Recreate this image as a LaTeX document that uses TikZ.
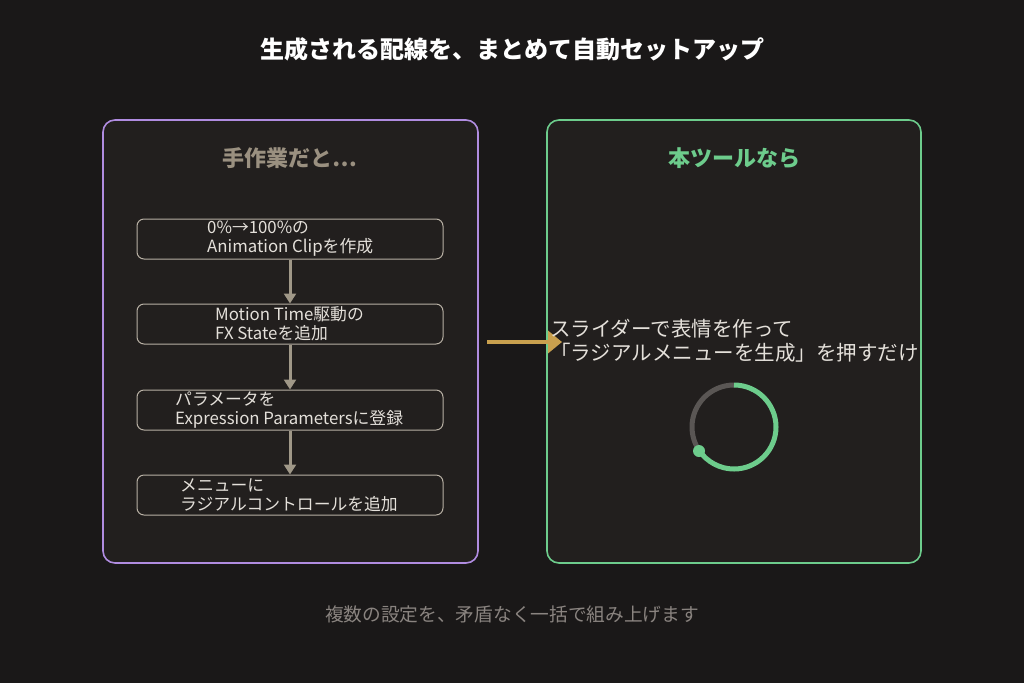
\documentclass[tikz,border=0pt]{standalone}
\usepackage{fontspec}
\setmainfont{Noto Sans CJK JP}
\usetikzlibrary{arrows.meta,calc}
\begin{document}
\begin{tikzpicture}[x=1pt,y=-1pt,
  panel/.style={draw, line width=1.6pt, rounded corners=12pt, fill=panelbg},
  flowbox/.style={draw=boxline, line width=1pt, rounded corners=7pt},
  txt/.style={text=boxtext, font=\fontsize{16.8}{19}\selectfont, align=left, anchor=west, inner sep=0pt},
  flow/.style={draw=arrowc, line width=3pt, -{Triangle[length=10pt,width=12pt]}}]
\definecolor{bg}{HTML}{1A1818}
\definecolor{panelbg}{HTML}{221F1E}
\definecolor{purp}{HTML}{B08CE0}
\definecolor{grn}{HTML}{6DCC8C}
\definecolor{boxline}{HTML}{B8B0A4}
\definecolor{boxtext}{HTML}{E4E0DA}
\definecolor{arrowc}{HTML}{A09888}
\definecolor{gold}{HTML}{C9A04E}
\definecolor{heading}{HTML}{9A9080}
\definecolor{foot}{HTML}{8A8480}
\definecolor{ring}{HTML}{5A5654}
\fill[bg] (0,0) rectangle (1024,683);
\useasboundingbox (0,0) rectangle (1024,683);
\node[text=white, font=\fontsize{24}{28}\selectfont\bfseries] (title) at (512,49) {生成される配線を、まとめて自動セットアップ};
\draw[panel, draw=purp] (103,120) rectangle (478,563);
\draw[panel, draw=grn] (547,120) rectangle (921,563);
\node[text=heading, font=\fontsize{22}{26}\selectfont\bfseries] (lh) at (290,158) {手作業だと…};
\node[text=grn, font=\fontsize{22}{26}\selectfont\bfseries] (rh) at (734,158) {本ツールなら};
\node[flowbox, minimum width=306pt, minimum height=40pt] (b1) at (290,239) {};
\node[flowbox, minimum width=306pt, minimum height=40pt] (b2) at (290,324) {};
\node[flowbox, minimum width=306pt, minimum height=40pt] (b3) at (290,410) {};
\node[flowbox, minimum width=306pt, minimum height=40pt] (b4) at (290,495) {};
\node[txt] (t1) at (207,239) {0\%→100\%の\\Animation Clipを作成};
\node[txt] (t2) at (215,324) {Motion Time駆動の\\FX Stateを追加};
\node[txt] (t3) at (175,410) {パラメータを\\Expression Parametersに登録};
\node[txt] (t4) at (180,495) {メニューに\\ラジアルコントロールを追加};
\draw[flow] (b1) -- (b2);
\draw[flow] (b2) -- (b3);
\draw[flow] (b3) -- (b4);
\coordinate (ga) at (487,342);
\coordinate (gb) at (562,342);
\draw[draw=gold, line width=4pt, -{Triangle[length=14pt,width=22pt]}] (ga) -- (gb);
\node[txt, text=boxtext, font=\fontsize{20.5}{24}\selectfont] (rt) at (550,341) {スライダーで表情を作って\\「ラジアルメニューを生成」を押すだけ};
\coordinate (c) at (734,427);
\draw[ring, line width=5pt] ([shift={(-90:42)}]c) arc[start angle=-90, end angle=-214, radius=42];
\draw[grn, line width=5pt] ([shift={(-90:42)}]c) arc[start angle=-90, end angle=146, radius=42];
\fill[grn] ($(c)+(-35,24)$) circle (6);
\node[text=foot, font=\fontsize{18.7}{22}\selectfont] (ft) at (512,614) {複数の設定を、矛盾なく一括で組み上げます};
\end{tikzpicture}
\end{document}
